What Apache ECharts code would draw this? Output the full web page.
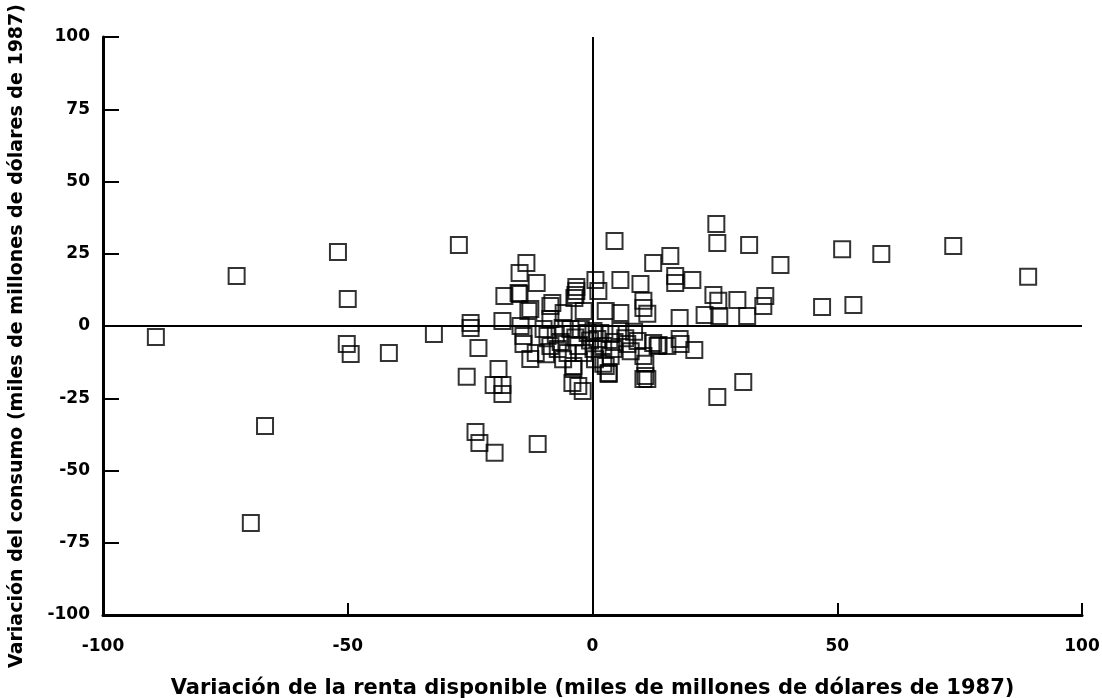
<!DOCTYPE html>
<html lang="es">

<head>
  <meta charset="UTF-8">
  <title>Variación del consumo y de la renta disponible</title>
  <style>
    html, body { margin: 0; padding: 0; background: #fff; }
  </style>
</head>

<body>
  <div id="main" style="width: 1102px; height: 698px"></div>

  <script src="https://cdn.jsdelivr.net/npm/echarts@6/dist/echarts.min.js"></script>

  <script>
    // variación de la renta disponible (miles de millones de dólares de 1987)
    var cambioRenta = [
      -89.2, -72.7, -52.0, -50.0, -50.2, -49.4, -41.6, -32.4, -66.9, -69.8,
      -27.3, -24.9, -24.9, -25.7, -23.3, -23.9, -23.1, -20.0, -20.2, -18.4,
      -18.4, -19.2, -18.0, -18.4, -11.2, -14.9, -13.5, -14.9, -11.4, -8.2,
      -12.7, -3.9, -2.0, 2.2, 3.3, -3.3, -3.3, -3.5, -3.7, 0.6,
      5.7, 4.5, 25.3, 25.5, 32.0, 38.4, 51.0, 59.0, 73.7, 89.0,
      15.9, 12.4, 16.9, 16.9, 20.4, 9.8, 10.4, 10.4, 11.2, 24.7,
      25.7, 25.9, 22.9, 29.6, 31.6, 35.3, 34.9, 46.9, 53.3, 17.8,
      17.8, 18.0, 20.8, 13.5, 10.4, 10.8, 30.8, 25.5,
      -15.1, 1.2, -13.1, -8.6, -5.9, -1.8, 2.7, 5.7, -14.1, -14.1,
      -11.6, -12.7, -9.2, -8.6, -7.1, -5.1, -6.1, -4.5, -2.4, -1.0,
      0.2, 1.6, 3.7, 5.7, 6.7, -2.9, -1.8, 0.2, 2.2, 4.3,
      3.7, 7.1, 7.8, 9.2, 12.4, 13.3, 10.4, -3.9, 2.7, 3.3,
      10.8, 11.2, 15.3, -4.1, -2.9, -8.6, -10.0, -14.7,
      -7.5, -6.5, -3.5, -0.5, 1.0, 4.5, 8.5, -9.5, -6.0, 0.5
    ];

    // variación del consumo (miles de millones de dólares de 1987)
    var cambioConsumo = [
      -3.8, 17.3, 25.6, 9.3, -6.2, -9.7, -9.3, -2.8, -34.6, -68.2,
      28.0, 1.0, -0.7, -17.6, -7.6, -36.7, -40.5, -43.9, -20.4, -20.4,
      -23.5, -14.9, 10.4, 1.7, -40.8, 18.3, 21.8, 11.1, 14.9, 8.0,
      5.9, -14.9, -22.5, -13.1, -16.6, 13.5, 12.1, 10.7, 9.7, 15.9,
      15.9, 29.4, 35.3, 28.7, 28.0, 21.1, 26.6, 24.9, 27.7, 17.0,
      24.2, 21.8, 17.3, 14.9, 15.9, 14.5, 8.7, 6.2, 4.2, 10.7,
      8.7, 3.5, 3.8, 9.0, 3.5, 10.4, 6.9, 6.6, 7.3, 2.8,
      -4.5, -6.2, -8.3, -6.6, -18.3, -13.1, -19.4, -24.6,
      11.4, 12.1, 5.2, 6.9, 4.5, 5.2, 5.2, 4.5, -3.5, -6.2,
      -9.3, -11.4, -3.5, -6.9, -8.0, -9.3, -0.7, -1.0, -1.0, -2.4,
      -1.7, -2.4, -2.8, -1.7, -4.2, -6.9, -9.3, -8.0, -6.9, -8.0,
      -10.4, -6.2, -8.7, -5.2, -5.9, -6.9, -10.4, -13.8, -13.8, -16.3,
      -17.3, -18.3, -6.9, -19.7, -20.8, 2.4, -1.0, 0.0,
      -3.0, -5.5, -4.0, -5.0, -4.5, -5.5, -2.0, -9.8, -11.5, -11.5
    ];

    var ticksRenta = [-100, -50, 0, 50, 100];
    var ticksConsumo = [-100, -75, -50, -25, 0, 25, 50, 75, 100];

    window.onload = function () {
      var myChart = echarts.init(document.getElementById('main'));

      var puntos = cambioRenta.map(function (x, i) {
        return [x, cambioConsumo[i]];
      });

      var fuente = '"DejaVu Sans", "Liberation Sans", Arial, sans-serif';

      var option = {
        backgroundColor: '#fff',
        animation: false,
        grid: {
          left: 103,
          right: 20,
          top: 37,
          bottom: 83,
          outerBoundsMode: 'none'
        },
        xAxis: {
          type: 'value',
          min: ticksRenta[0],
          max: ticksRenta[ticksRenta.length - 1],
          interval: ticksRenta[1] - ticksRenta[0],
          name: 'Variación de la renta disponible (miles de millones de dólares de 1987)',
          nameLocation: 'middle',
          nameGap: 63,
          nameTextStyle: { color: '#000', fontSize: 21, fontWeight: 'bold', fontFamily: fuente },
          axisLine: { onZero: false, lineStyle: { color: '#000', width: 3 } },
          axisTick: { inside: true, length: 12, lineStyle: { color: '#000', width: 2 } },
          axisLabel: { color: '#000', fontSize: 17, fontWeight: 'bold', fontFamily: fuente, margin: 23 },
          splitLine: { show: false }
        },
        yAxis: {
          type: 'value',
          min: ticksConsumo[0],
          max: ticksConsumo[ticksConsumo.length - 1],
          interval: ticksConsumo[1] - ticksConsumo[0],
          name: 'Variación del consumo (miles de millones de dólares de 1987)',
          nameLocation: 'middle',
          nameGap: 76,
          nameTextStyle: {
            color: '#000', fontSize: 19, fontWeight: 'bold', fontFamily: fuente,
            padding: [0, 20, 0, 0]
          },
          axisLine: { onZero: false, lineStyle: { color: '#000', width: 3 } },
          axisTick: { inside: true, length: 16, lineStyle: { color: '#000', width: 2 } },
          axisLabel: { color: '#000', fontSize: 17, fontWeight: 'bold', fontFamily: fuente, margin: 13 },
          splitLine: { show: false }
        },
        series: [
          {
            type: 'scatter',
            data: puntos,
            symbol: 'rect',
            symbolSize: 16,
            itemStyle: {
              color: 'rgba(255,255,255,0)',
              borderColor: '#000',
              borderWidth: 2
            },
            // ejes en cero
            markLine: {
              silent: true,
              symbol: 'none',
              label: { show: false },
              lineStyle: { color: '#000', width: 2, type: 'solid' },
              data: [{ xAxis: 0 }, { yAxis: 0 }]
            }
          }
        ]
      };

      myChart.setOption(option);
    };
  </script>
</body>

</html>
